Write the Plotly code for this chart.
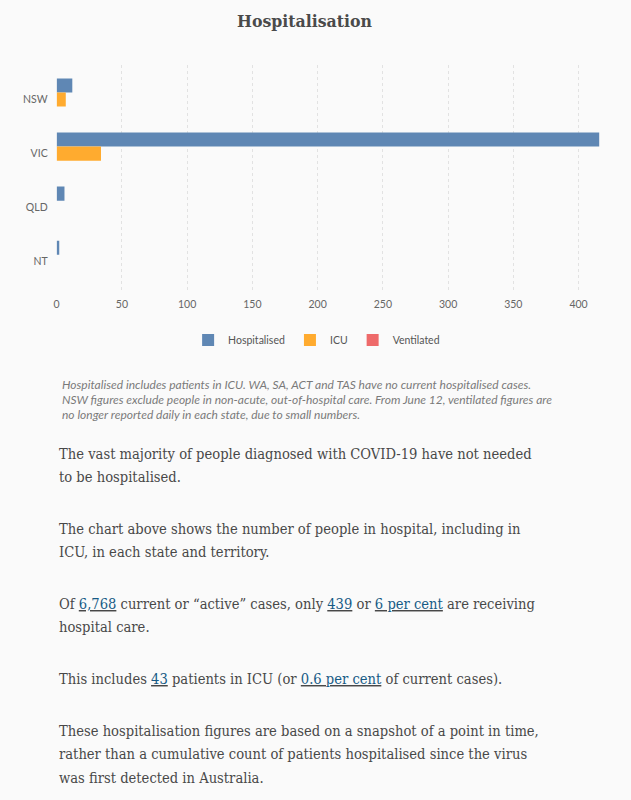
import plotly.graph_objects as go

# ---- data ----
states = ["NSW", "VIC", "QLD", "NT"]
hospitalised = [12, 416, 6, 2]
icu = [7, 34, 0, 0]
ventilated = [None, None, None, None]
series_names = ["Hospitalised", "ICU", "Ventilated"]
series_colors = ["#5f87b4", "#ffab2f", "#ee6a6a"]
x_ticks = [0, 50, 100, 150, 200, 250, 300, 350, 400]

title_text = "Hospitalisation"
note_lines = [
    "Hospitalised includes patients in ICU. WA, SA, ACT and TAS have no current hospitalised cases.",
    "NSW figures exclude people in non-acute, out-of-hospital care. From June 12, ventilated figures are",
    "no longer reported daily in each state, due to small numbers.",
]
LINK = "<u><span style='color:#175a86'>{}</span></u>"
body_lines = [
    "The vast majority of people diagnosed with COVID-19 have not needed",
    "to be hospitalised.",
    "The chart above shows the number of people in hospital, including in",
    "ICU, in each state and territory.",
    "Of " + LINK.format("6,768") + " current or \u201cactive\u201d cases, only " + LINK.format("439")
    + " or " + LINK.format("6 per cent") + " are receiving",
    "hospital care.",
    "This includes " + LINK.format("43") + " patients in ICU (or " + LINK.format("0.6 per cent")
    + " of current cases).",
    "These hospitalisation figures are based on a snapshot of a point in time,",
    "rather than a cumulative count of patients hospitalised since the virus",
    "was first detected in Australia.",
]
body_y = [453, 476.5, 528, 551, 603, 626, 678, 730, 753.5, 777]
note_y = [385, 399.5, 414.5]

W, H = 631, 800
SANS = "Lato, 'Open Sans', sans-serif"
SERIF = "'DejaVu Serif Condensed', 'DejaVu Serif', serif"

fig = go.Figure()
for name, vals, col in zip(series_names, [hospitalised, icu, ventilated], series_colors):
    fig.add_trace(go.Bar(
        y=states, x=vals, name=name, orientation="h",
        marker=dict(color=col, line=dict(width=0)),
    ))

fig.update_layout(
    width=W, height=H,
    margin=dict(l=0, r=0, t=0, b=0),
    paper_bgcolor="#fafafa", plot_bgcolor="#fafafa",
    barmode="group", bargap=0.22, bargroupgap=0,
    showlegend=True,
    legend=dict(orientation="h", x=186 / W, xanchor="left", y=1 - 340 / H, yanchor="middle",
                font=dict(family=SANS, size=10.5, color="#555"), bgcolor="rgba(0,0,0,0)",
                itemclick=False),
    xaxis=dict(domain=[53.9 / W, 599.3 / W], range=[0, max(hospitalised)],
               tickvals=x_ticks, showgrid=True, gridcolor="#e2e2e2", griddash="dot", gridwidth=1,
               zeroline=False, showline=False, ticks="",
               tickfont=dict(family=SANS, size=10.5, color="#666"), ticklabelstandoff=4),
    yaxis=dict(domain=[1 - 292 / H, 1 - 65 / H], type="category", categoryorder="array",
               categoryarray=states, range=[3.56, -0.64], showgrid=False, zeroline=False,
               showline=False, ticks="", tickfont=dict(family=SANS, size=10.5, color="#666"),
               ticklabelstandoff=8),
)

ann = []
ann.append(dict(text="<b>" + title_text + "</b>", x=303 / W, y=1 - 21 / H, xref="paper", yref="paper",
                xanchor="center", yanchor="middle", showarrow=False,
                font=dict(family=SERIF, size=17.5, color="#4a4a4a")))
for t, yy in zip(note_lines, note_y):
    ann.append(dict(text="<i>" + t + "</i>", x=57.5 / W, y=1 - yy / H, xref="paper", yref="paper",
                    xanchor="left", yanchor="middle", showarrow=False, align="left",
                    font=dict(family=SANS, size=12, color="#7a7a7a")))
for t, yy in zip(body_lines, body_y):
    ann.append(dict(text=t, x=54 / W, y=1 - yy / H, xref="paper", yref="paper",
                    xanchor="left", yanchor="middle", showarrow=False, align="left",
                    font=dict(family=SERIF, size=14.6, color="#484848")))
fig.update_layout(annotations=ann)

fig.write_html("out.html", config={"displayModeBar": False},
               post_script="document.body.style.margin='0px';")
